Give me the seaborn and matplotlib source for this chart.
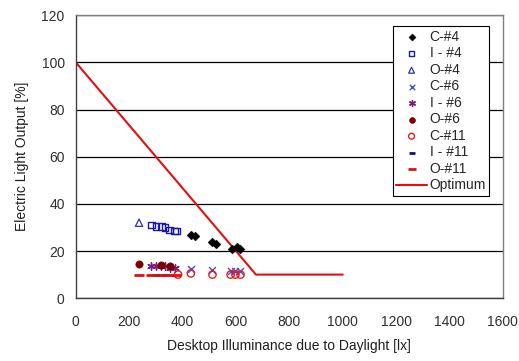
import matplotlib
matplotlib.use("Agg")
import matplotlib.pyplot as plt
import seaborn as sns
import pandas as pd

sns.set_style("white")
plt.rcParams['font.family'] = ['Liberation Sans', 'DejaVu Sans']

# Data
c4_x = [431, 445, 512, 525, 585, 605, 617]
c4_y = [27, 26.5, 24, 23, 21, 21.5, 21]
i4_x = [283, 300, 321, 335, 352, 370, 377]
i4_y = [31, 30.5, 30.5, 30, 29, 28.5, 28.5]
o4_x = [237]
o4_y = [32]
c6_x = [431, 512, 580, 598, 617]
c6_y = [12.5, 12, 11.5, 11.5, 11.5]
i6_x = [283, 300, 321, 335, 352, 370]
i6_y = [13.5, 13.5, 13.5, 13.5, 13, 13]
o6_x = [237, 321, 352]
o6_y = [14.5, 14, 13.5]
c11_x = [383, 431, 512, 580, 598, 617]
c11_y = [10, 10.5, 10, 10, 10, 10]
i11_x = [300, 335]
i11_y = [10, 10]
o11_x = [237, 283, 321, 352, 377]
o11_y = [10, 10, 10, 10, 10]
opt_x = [0, 675, 1000]
opt_y = [100, 10, 10]

xticks = [0, 200, 400, 600, 800, 1000, 1200, 1400, 1600]
yticks = [0, 20, 40, 60, 80, 100, 120]

FS = 10

fig = plt.figure(figsize=(5.19, 3.61), dpi=100)
ax = fig.add_axes([0.146, 0.174, 0.823, 0.784])

series = [
    ("C-#4", c4_x, c4_y, dict(marker="D", color="black", s=20, edgecolor="black")),
    ("I - #4", i4_x, i4_y, dict(marker="s", facecolor="none", edgecolor="#1a1aa8", s=22, linewidth=1)),
    ("O-#4", o4_x, o4_y, dict(marker="^", facecolor="none", edgecolor="#3030c0", s=28, linewidth=0.9)),
    ("C-#6", c6_x, c6_y, dict(marker="x", color="#4a4ac8", s=24, linewidth=1)),
    ("I - #6", i6_x, i6_y, dict(marker=(6, 2, 0), color="#7a1a7a", s=28, linewidth=1)),
    ("O-#6", o6_x, o6_y, dict(marker="o", color="#7a0000", edgecolor="#7a0000", s=28)),
    ("C-#11", c11_x, c11_y, dict(marker="o", facecolor="none", edgecolor="#e02020", s=28, linewidth=1)),
    ("I - #11", i11_x, i11_y, dict(marker="_", color="#10108a", s=30, linewidth=2)),
    ("O-#11", o11_x, o11_y, dict(marker="_", color="#e01010", s=60, linewidth=2)),
]

for name, xs, ys, kw in series:
    df = pd.DataFrame({"x": xs, "y": ys})
    sns.scatterplot(data=df, x="x", y="y", ax=ax, label=name, zorder=3, **kw)

dfo = pd.DataFrame({"x": opt_x, "y": opt_y})
sns.lineplot(data=dfo, x="x", y="y", ax=ax, color="#e01010", linewidth=1.5,
             label="Optimum", zorder=2, sort=False)

ax.set_xlim(0, 1600)
ax.set_ylim(0, 120)
ax.set_xticks(xticks)
ax.set_yticks(yticks)
ax.yaxis.grid(True, color="black", linewidth=0.9)
ax.set_axisbelow(True)
for sp in ax.spines.values():
    sp.set_color("#808080")
    sp.set_linewidth(1.0)
ax.spines["left"].set_color("#404040")
ax.spines["bottom"].set_color("#404040")
ax.tick_params(axis="x", direction="in", length=4, colors="#404040", labelcolor="#303030",
               labelsize=FS, pad=12)
ax.tick_params(axis="y", direction="out", length=3, colors="#404040", labelcolor="#303030",
               labelsize=FS, pad=5)
ax.set_xlabel("Desktop Illuminance due to Daylight [lx]", fontsize=FS, color="#202020", labelpad=7)
ax.set_ylabel("Electric Light Output [%]", fontsize=FS, color="#202020", labelpad=9)

leg = ax.legend(loc="upper right", bbox_to_anchor=(0.975, 0.97), fontsize=FS,
                frameon=True, fancybox=False, edgecolor="black", framealpha=1,
                handlelength=2.2, borderpad=0.25, labelspacing=0.18, handletextpad=0.2,
                markerscale=0.8, borderaxespad=0.2)
leg.get_frame().set_linewidth(0.8)

fig.savefig("out.png", dpi=100)
